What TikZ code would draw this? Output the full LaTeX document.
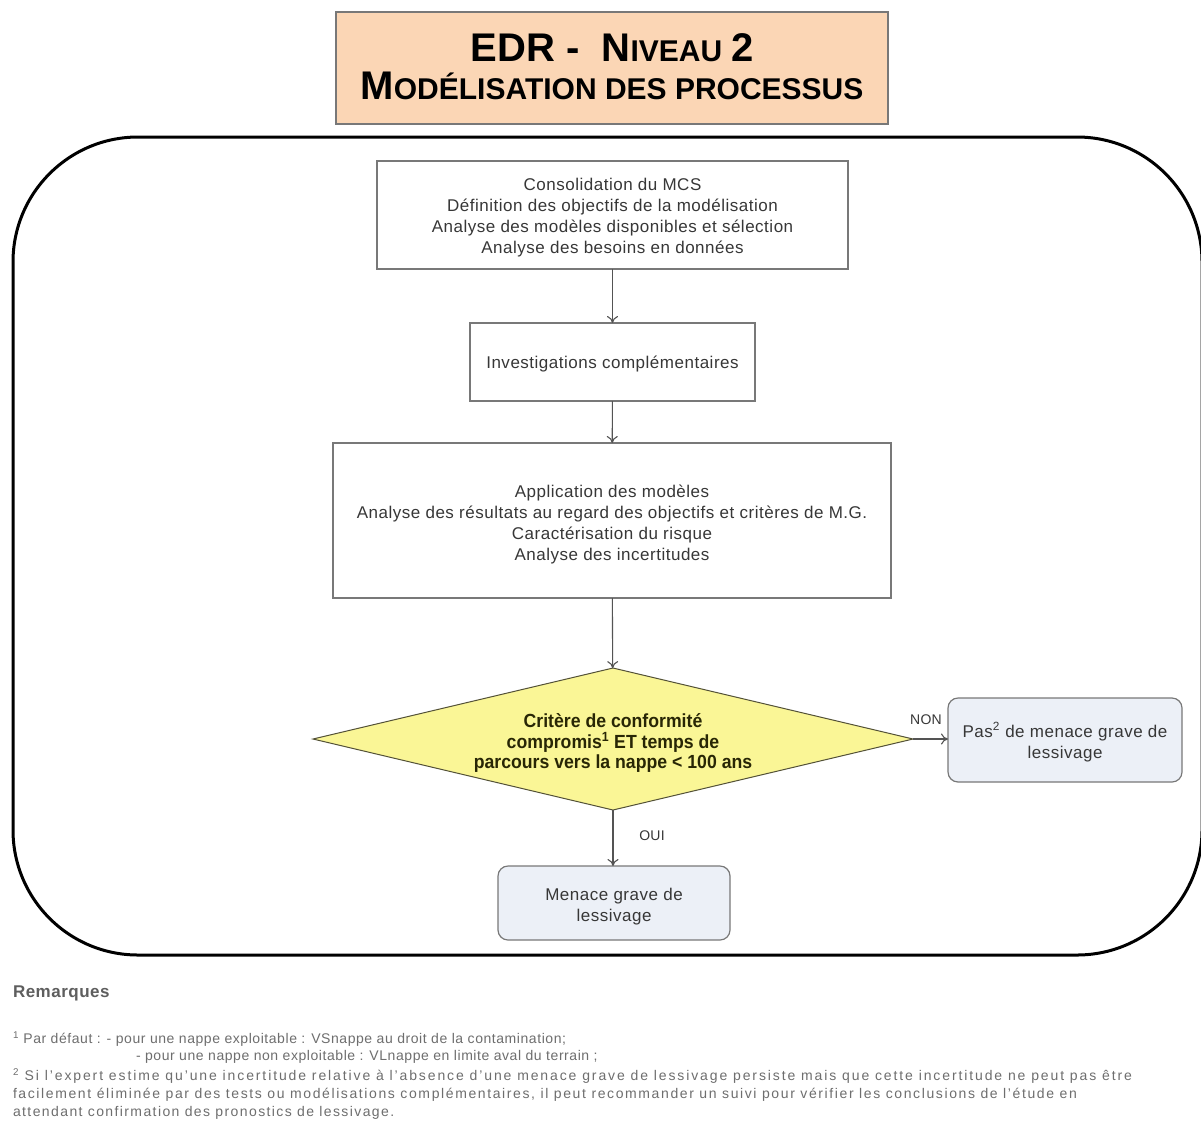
\documentclass[tikz,border=0pt]{standalone}
\usepackage{fontspec}
\setmainfont{Liberation Sans}
\usetikzlibrary{shapes.geometric,arrows.meta}
\definecolor{titlefill}{RGB}{251,214,181}
\definecolor{boxline}{RGB}{120,120,120}
\definecolor{boxtext}{RGB}{55,55,55}
\definecolor{endfill}{RGB}{236,240,247}
\definecolor{diafill}{RGB}{250,246,150}
\definecolor{diatext}{RGB}{40,38,5}
\definecolor{notetext}{RGB}{110,110,110}
\newcommand{\bigsc}[1]{{\fontsize{40}{40}\selectfont #1}}
\newcommand{\smsc}[1]{{\fontsize{30}{40}\selectfont #1}}
\begin{document}
\begin{tikzpicture}[x=1pt,y=-1pt,
  every node/.style={inner sep=0pt,outer sep=0pt},
  stepbox/.style={draw=boxline,line width=1.2pt,fill=white},
  endbox/.style={stepbox,fill=endfill,rounded corners=10pt},
  steptext/.style={align=center,text=boxtext,
    font=\fontsize{17}{21}\selectfont\addfontfeature{LetterSpace=3}},
  flow/.style={draw=boxline!70!black,line width=1.1pt,-{To[length=7pt,width=11pt]}},
  lbl/.style={text=boxtext,font=\fontsize{14}{16}\selectfont\addfontfeature{LetterSpace=2}},
  note/.style={anchor=west,text=notetext,font=\fontsize{14}{16}\selectfont}]
\useasboundingbox (0,0) rectangle (1201,1128);
\fill[white] (0,0) rectangle (1201,1128);

% title banner
\node[draw=boxline,line width=1.2pt,fill=titlefill,minimum width=552pt,minimum height=112pt] (title) at (612,68) {};
\node[align=center,font=\bfseries] (titletext) at (612,67)
  {\bigsc{EDR -\ \ N}\smsc{IVEAU}\hspace{9pt}\bigsc{2}\\[9pt]\bigsc{M}\smsc{ODÉLISATION DES PROCESSUS}};

% surrounding frame
\draw[line width=3pt,rounded corners=125pt] (13,137) rectangle (1202,955);

% process steps
\node[stepbox,minimum width=471pt,minimum height=108pt] (consol) at (612.5,215) {};
\node[steptext] (consoltext) at (612.5,218)
  {Consolidation du MCS\\Définition des objectifs de la modélisation\\Analyse des modèles disponibles et sélection\\Analyse des besoins en données};
\node[stepbox,minimum width=285pt,minimum height=78pt] (invest) at (612.5,362) {};
\node[steptext] (investtext) at (612.5,364) {Investigations complémentaires};
\node[stepbox,minimum width=558pt,minimum height=155pt] (appli) at (612,520.5) {};
\node[steptext] (aplitext) at (612,524.5)
  {Application des modèles\\Analyse des résultats au regard des objectifs et critères de M.G.\\Caractérisation du risque\\Analyse des incertitudes};

% decision
\node[diamond,draw=diatext!80,line width=1pt,fill=diafill,aspect=4.2,
  minimum width=600pt,minimum height=142pt] (crit) at (613,739) {};
\node[align=center,text=diatext,
  font=\bfseries\fontsize{19}{20.5}\selectfont\addfontfeature{FakeStretch=0.93}] (crittext) at (613,743)
  {Critère de conformité\\compromis\textsuperscript{1} ET temps de\\parcours vers la nappe < 100 ans};

% outcomes
\node[endbox,minimum width=234pt,minimum height=84pt] (pasmen) at (1065,740) {};
\node[steptext] (pasmentext) at (1065,742) {Pas\textsuperscript{2} de menace grave de\\lessivage};
\node[endbox,minimum width=232pt,minimum height=74pt] (menace) at (614,903) {};
\node[steptext] (menacetext) at (614,907) {Menace grave de\\lessivage};

% connectors
\draw[flow] (consol) -- (invest);
\draw[flow] (invest) -- (appli);
\draw[flow] (appli) -- (crit);
\draw[flow] (crit.east) -- (pasmen.west |- crit.east);
\draw[flow] (crit.south) -- (menace.north -| crit.south);
\node[lbl] (non) at (926,720) {NON};
\node[lbl] (oui) at (652,836) {OUI};

% remarks
\node[anchor=west,text=notetext!85!black,font=\bfseries\fontsize{17}{18}\selectfont\addfontfeature{LetterSpace=3}] (rem) at (13,993) {Remarques};
\node[note,font=\fontsize{14}{16}\selectfont\addfontfeature{LetterSpace=4}] (n1) at (13,1039) {\textsuperscript{1} Par défaut : - pour une nappe exploitable : VSnappe au droit de la contamination;};
\node[note,font=\fontsize{14}{16}\selectfont\addfontfeature{LetterSpace=4}] (n2) at (136,1057) {- pour une nappe non exploitable : VLnappe en limite aval du terrain ;};
\node[note,font=\fontsize{14}{16}\selectfont\addfontfeature{LetterSpace=13.5}] (n3) at (13,1076) {\textsuperscript{2} Si l’expert estime qu’une incertitude relative à l’absence d’une menace grave de lessivage persiste mais que cette incertitude ne peut pas être};
\node[note,font=\fontsize{14}{16}\selectfont\addfontfeature{LetterSpace=11.5}] (n4) at (13,1095) {facilement éliminée par des tests ou modélisations complémentaires, il peut recommander un suivi pour vérifier les conclusions de l’étude en};
\node[note,font=\fontsize{14}{16}\selectfont\addfontfeature{LetterSpace=10}] (n5) at (13,1113) {attendant confirmation des pronostics de lessivage.};
\end{tikzpicture}
\end{document}
